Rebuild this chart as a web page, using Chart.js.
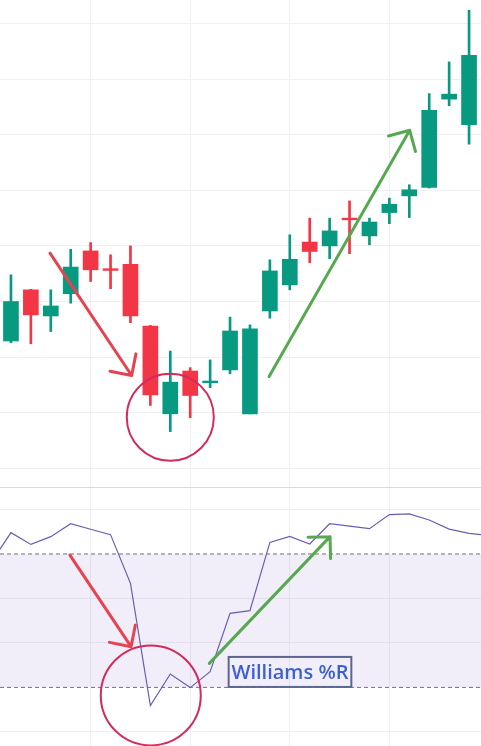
<!DOCTYPE html>
<html>
<head>
<meta charset="utf-8">
<title>Price with Williams %R</title>
<script src="https://cdn.jsdelivr.net/npm/chart.js@4/dist/chart.umd.min.js"></script>
<style>
  html, body { margin: 0; padding: 0; background: #ffffff; overflow: hidden; }
  .pane { position: relative; width: 481px; }
  .divider { width: 481px; height: 1px; background: #dadada; }
  canvas { display: block; }
</style>
</head>
<body>
<div class="pane"><canvas id="price" width="481" height="487"></canvas></div>
<div class="divider"></div>
<div class="pane"><canvas id="wpr" width="481" height="258"></canvas></div>
<script>
// ---- Price candles (one per session) ----
const candleIndex = [0, 1, 2, 3, 4, 5, 6, 7, 8, 9, 10, 11, 12, 13, 14, 15, 16, 17, 18, 19, 20, 21, 22, 23];
const opens  = [102.29, 103.21, 102.74, 103.14, 103.91, 103.59, 103.67, 102.56, 100.98, 101.75, 101.54, 101.77,
                100.98, 102.83, 103.30, 104.07, 104.00, 104.50, 104.18, 104.60, 104.90, 105.05, 106.64, 106.18];
const highs  = [103.48, 103.22, 103.21, 103.94, 104.06, 103.84, 104.00, 102.57, 102.11, 101.81, 101.95, 102.72,
                102.58, 103.75, 104.20, 104.50, 104.50, 104.81, 104.50, 104.86, 105.10, 106.74, 107.31, 108.24];
const lows   = [102.26, 102.24, 102.46, 102.97, 103.36, 103.23, 102.62, 101.13, 100.66, 100.91, 101.45, 101.70,
                100.98, 102.70, 103.21, 103.70, 103.77, 103.86, 104.02, 104.40, 104.51, 105.04, 106.52, 105.83];
const closes = [103.00, 102.76, 102.92, 103.62, 103.57, 103.56, 102.74, 101.32, 101.55, 101.31, 101.57, 102.47,
                102.51, 103.55, 103.76, 103.90, 104.27, 104.47, 104.43, 104.75, 105.01, 106.44, 106.73, 107.43];

// ---- Williams %R oscillator ----
const wprIndex  = [-1, 0, 1, 2, 3, 4, 5, 6, 7, 8, 9, 10, 11, 12, 13, 14, 15, 16, 17, 18, 19, 20, 21, 22, 23, 24];
const wprValues = [-23.9, -10.4, -15.7, -12.2, -6.4, -8.9, -11.3, -33.2, -88.2, -74.0, -80.1, -72.9, -46.7,
                   -45.5, -14.8, -12.1, -15.5, -6.4, -7.5, -8.6, -2.3, -2.0, -4.7, -8.8, -10.7, -11.7];
const overbought = -20;
const oversold = -80;

// ---- Grid levels ----
const timeGridTicks = [4, 9, 14, 19];
const priceGridTicks = [100, 101, 102, 103, 104, 105, 106, 107, 108];
const wprGridTicks = [0, -20, -40, -60, -80, -100];

// Visible windows
const xRange = { min: -0.55, max: 23.6 };
const priceRange = { min: 99.664, max: 108.423 };
const wprRange = { min: -106.36, max: 9.67 };

const UP = '#089981';
const DOWN = '#f23645';
const GRID = '#eff0f3';

const candleColors = candleIndex.map((_, k) => closes[k] >= opens[k] ? UP : DOWN);

// Markup drawn over each pane, placed in data coordinates
const priceMarks = {
  arrows: [
    { from: [1.96, 103.87], to: [6.06, 101.67], color: '#e6424f' },
    { from: [12.96, 101.65], to: [20.02, 106.08], color: '#56a951' }
  ],
  circles: [ { center: [8.0, 100.92], radius: 2.185, color: '#d22b5c' } ]
};
const wprMarks = {
  arrows: [
    { from: [2.96, -20.5], to: [6.03, -61.7], color: '#e6424f' },
    { from: [9.96, -69.2], to: [16.02, -12.2], color: '#56a951' }
  ],
  circles: [ { center: [7.02, -83.6], radius: 2.51, color: '#d22b5c' } ],
  labels: [ { text: 'Williams %R', left: 10.93, right: 17.09, top: -66.3, bottom: -79.8,
              color: '#3a5fd6', border: '#5c6690' } ]
};

function drawArrow(ctx, x1, y1, x2, y2, color) {
  const ang = Math.atan2(y1 - y2, x1 - x2);
  const head = 22, spread = Math.PI / 4;
  ctx.save();
  ctx.strokeStyle = color;
  ctx.lineWidth = 3;
  ctx.lineCap = 'round';
  ctx.lineJoin = 'round';
  ctx.beginPath();
  ctx.moveTo(x1, y1);
  ctx.lineTo(x2, y2);
  ctx.moveTo(x2 + head * Math.cos(ang + spread), y2 + head * Math.sin(ang + spread));
  ctx.lineTo(x2, y2);
  ctx.lineTo(x2 + head * Math.cos(ang - spread), y2 + head * Math.sin(ang - spread));
  ctx.stroke();
  ctx.restore();
}

function markupPlugin(marks) {
  return {
    id: 'markup',
    afterDraw(chart) {
      const { ctx, scales: { x, y } } = chart;
      (marks.circles || []).forEach(c => {
        const cx = x.getPixelForValue(c.center[0]);
        const cy = y.getPixelForValue(c.center[1]);
        const r = Math.abs(x.getPixelForValue(c.center[0] + c.radius) - cx);
        ctx.save();
        ctx.strokeStyle = c.color;
        ctx.lineWidth = 2;
        ctx.beginPath();
        ctx.arc(cx, cy, r, 0, Math.PI * 2);
        ctx.stroke();
        ctx.restore();
      });
      (marks.arrows || []).forEach(a => {
        drawArrow(ctx,
          x.getPixelForValue(a.from[0]), y.getPixelForValue(a.from[1]),
          x.getPixelForValue(a.to[0]), y.getPixelForValue(a.to[1]), a.color);
      });
      (marks.labels || []).forEach(l => {
        const left = x.getPixelForValue(l.left), right = x.getPixelForValue(l.right);
        const top = y.getPixelForValue(l.top), bottom = y.getPixelForValue(l.bottom);
        ctx.save();
        ctx.strokeStyle = l.border;
        ctx.lineWidth = 2;
        ctx.strokeRect(left, top, right - left, bottom - top);
        ctx.fillStyle = l.color;
        ctx.font = '600 20px "Open Sans", "Noto Sans", sans-serif';
        ctx.textAlign = 'center';
        ctx.textBaseline = 'middle';
        ctx.fillText(l.text, (left + right) / 2, (top + bottom) / 2 + 1);
        ctx.restore();
      });
    }
  };
}

const hiddenAxis = (range, ticks, extra) => Object.assign({
  type: 'linear',
  min: range.min,
  max: range.max,
  offset: false,
  afterBuildTicks: s => { s.ticks = ticks.map(v => ({ value: v })); },
  ticks: { display: false },
  border: { display: false },
  grid: { color: GRID, lineWidth: 1, drawTicks: false, offset: false }
}, extra || {});

new Chart(document.getElementById('price'), {
  type: 'bar',
  data: {
    datasets: [
      {
        label: 'Body',
        data: candleIndex.map((i, k) => ({ x: i, y: [opens[k], closes[k]] })),
        backgroundColor: candleColors,
        borderWidth: 0,
        barThickness: 15,
        grouped: false
      },
      {
        label: 'Wick',
        data: candleIndex.map((i, k) => ({ x: i, y: [lows[k], highs[k]] })),
        backgroundColor: candleColors,
        borderWidth: 0,
        barThickness: 2,
        grouped: false
      }
    ]
  },
  options: {
    responsive: false,
    animation: false,
    events: [],
    layout: { padding: 0 },
    plugins: { legend: { display: false }, tooltip: { enabled: false } },
    scales: {
      x: hiddenAxis(xRange, timeGridTicks),
      y: hiddenAxis(priceRange, priceGridTicks)
    }
  },
  plugins: [markupPlugin(priceMarks)]
});

new Chart(document.getElementById('wpr'), {
  type: 'line',
  data: {
    datasets: [
      {
        label: 'Williams %R',
        data: wprIndex.map((i, k) => ({ x: i, y: wprValues[k] })),
        borderColor: '#6c5db3',
        borderWidth: 1.2,
        pointRadius: 0,
        tension: 0,
        fill: false
      },
      {
        label: 'Upper band',
        data: [{ x: xRange.min, y: overbought }, { x: xRange.max, y: overbought }],
        borderColor: '#72727c',
        borderWidth: 1,
        borderDash: [4, 3],
        pointRadius: 0,
        fill: '+1',
        backgroundColor: 'rgba(126, 87, 194, 0.1)'
      },
      {
        label: 'Lower band',
        data: [{ x: xRange.min, y: oversold }, { x: xRange.max, y: oversold }],
        borderColor: '#72727c',
        borderWidth: 1,
        borderDash: [4, 3],
        pointRadius: 0,
        fill: false
      }
    ]
  },
  options: {
    responsive: false,
    animation: false,
    events: [],
    layout: { padding: 0 },
    plugins: { legend: { display: false }, tooltip: { enabled: false } },
    scales: {
      x: hiddenAxis(xRange, timeGridTicks),
      y: hiddenAxis(wprRange, wprGridTicks, {
        grid: {
          drawTicks: false,
          lineWidth: 1,
          color: c => (c.tick && (c.tick.value === overbought || c.tick.value === oversold)) ? 'rgba(0,0,0,0)' : GRID
        }
      })
    }
  },
  plugins: [markupPlugin(wprMarks)]
});
</script>
</body>
</html>
